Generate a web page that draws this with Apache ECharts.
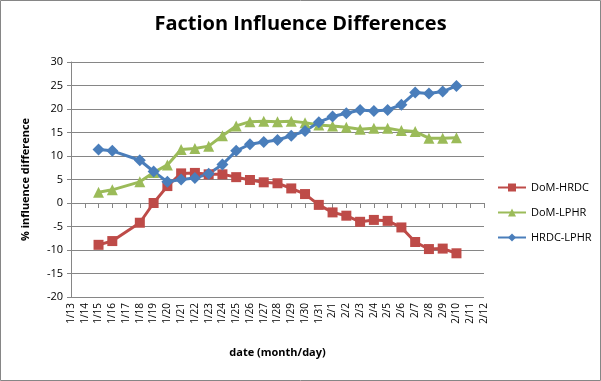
<!DOCTYPE html>
<html><head><meta charset="utf-8">
<script src="https://cdn.jsdelivr.net/npm/echarts@6/dist/echarts.min.js"></script>
<style>html,body{margin:0;padding:0;background:#fff}#c{width:601px;height:381px}</style>
</head><body><div id="c"></div>
<script>
var dates = ['1/13','1/14','1/15','1/16','1/17','1/18','1/19','1/20','1/21','1/22','1/23','1/24','1/25','1/26','1/27','1/28','1/29','1/30','1/31','2/1','2/2','2/3','2/4','2/5','2/6','2/7','2/8','2/9','2/10','2/11','2/12'];
var domHrdc = [null,null,-8.9,-8.1,null,-4.2,0,3.6,6.3,6.4,6.1,6.1,5.5,4.9,4.4,4.2,3.1,1.9,-0.4,-2.0,-2.7,-4.0,-3.6,-3.8,-5.2,-8.3,-9.8,-9.7,-10.7,null,null];
var domLphr = [null,null,2.3,2.8,null,4.5,6.5,8.1,11.4,11.6,12.1,14.3,16.4,17.3,17.4,17.3,17.4,17.1,16.6,16.4,16.1,15.7,15.9,15.9,15.4,15.2,13.8,13.8,13.9,null,null];
var hrdcLphr = [null,null,11.4,11.1,null,9.1,6.7,4.5,5.0,5.3,6.2,8.2,11.1,12.5,13.0,13.4,14.3,15.3,17.2,18.4,19.1,19.8,19.6,19.8,20.9,23.5,23.3,23.7,24.9,null,null];
var yTicks = [-20,-15,-10,-5,0,5,10,15,20,25,30];

var chart = echarts.init(document.getElementById('c'));
var font = 'Open Sans, DejaVu Sans, sans-serif';
function ser(name, data, color, symbol, size){
  return {name:name,type:'line',data:data,connectNulls:true,symbol:symbol,symbolSize:size,
    lineStyle:{color:color,width:3},itemStyle:{color:color},color:color,animation:false};
}
chart.setOption({
  animation:false,
  backgroundColor:'#fff',
  title:{text:'Faction Influence Differences',left:'center',top:9,
    textStyle:{fontFamily:font,fontSize:20,fontWeight:'bold',color:'#000'}},
  grid:{left:71,right:117,top:62,bottom:84},
  legend:{orient:'vertical',left:492,top:177,itemGap:14,itemWidth:28,itemHeight:10,
    textStyle:{fontFamily:font,fontSize:11,color:'#000'},
    data:['DoM-HRDC','DoM-LPHR','HRDC-LPHR']},
  xAxis:{type:'category',data:dates,boundaryGap:false,
    name:'date (month/day)',nameLocation:'middle',nameGap:50,
    nameTextStyle:{fontFamily:font,fontSize:11,fontWeight:'bold',color:'#000'},
    axisLine:{lineStyle:{color:'#868686'}},
    axisTick:{show:true,interval:0,length:5,lineStyle:{color:'#868686'}},
    axisLabel:{interval:0,rotate:90,fontFamily:font,fontSize:10,color:'#000',margin:6},
    splitLine:{show:false}},
  yAxis:{type:'value',min:yTicks[0],max:yTicks[yTicks.length-1],interval:5,
    name:'% influence difference',nameLocation:'middle',nameGap:40,
    nameTextStyle:{fontFamily:font,fontSize:11,fontWeight:'bold',color:'#000'},
    axisLine:{show:true,lineStyle:{color:'#868686'}},
    axisTick:{show:true,length:4,lineStyle:{color:'#868686'}},
    axisLabel:{fontFamily:font,fontSize:11,color:'#000',margin:8},
    splitLine:{show:true,lineStyle:{color:'#868686',width:1}}},
  series:[
    ser('DoM-HRDC',domHrdc,'#BE4B48','rect',10),
    ser('DoM-LPHR',domLphr,'#9BBB59','triangle',11),
    ser('HRDC-LPHR',hrdcLphr,'#4A7EBB','diamond',12)
  ],
  graphic:[{type:'rect',shape:{x:0.5,y:0.5,width:600,height:380},style:{fill:'none',stroke:'#868686',lineWidth:1}}]
});
</script></body></html>
